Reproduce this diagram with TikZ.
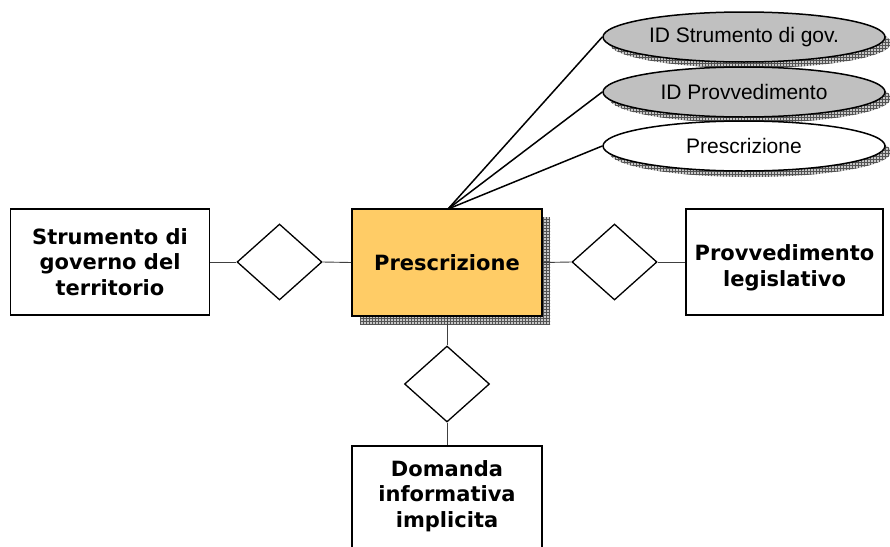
\documentclass[tikz,border=0pt]{standalone}
\usepackage{fontspec}
\newfontfamily\boxfont{DejaVu Sans}
\newfontfamily\ellfont{Liberation Sans}
\usetikzlibrary{shapes.geometric,shadows,patterns}
\tikzset{
  entity/.style={draw, line width=1.6pt, rectangle, minimum width=199pt, minimum height=106pt,
    align=center, font=\boxfont\bfseries\fontsize{21}{25.5}\selectfont, inner sep=2pt},
  etext/.style={align=center, font=\boxfont\bfseries\fontsize{21}{25.5}\selectfont, inner sep=2pt},
  rel/.style={draw, line width=1.3pt, diamond, minimum width=85pt, minimum height=76pt, inner sep=0pt, fill=white},
  conn/.style={line width=0.9pt, draw=black!75},
  attrline/.style={line width=1.5pt},
  hshadow/.style={general shadow={fill=gray!45, shadow xshift=#1, shadow yshift=-#1},
                  general shadow={pattern=grid, pattern color=gray!65!black, shadow xshift=#1, shadow yshift=-#1}},
  attr/.style={draw, line width=1.5pt, ellipse, minimum width=282pt, minimum height=50pt, inner sep=0pt,
    font=\ellfont\fontsize{21}{23}\selectfont, hshadow=6pt},
}
\begin{document}
\begin{tikzpicture}[x=1pt,y=-1pt]
\useasboundingbox (0,0) rectangle (890,546);
\clip (0,0) rectangle (890,546);
% entities
\node[entity] (sgt) at (110,262) {Strumento di\\governo del\\territorio};
\node[entity, minimum width=190pt, minimum height=107pt, fill={rgb,255:red,255;green,204;blue,102}, hshadow=8pt] (pre) at (447,262.5) {Prescrizione};
\node[entity, minimum width=197pt] (prl) at (784.5,262) {};
\node[etext] (prlt) at (784.5,268) {Provvedimento\\legislativo};
\node[entity, minimum width=190pt, minimum height=120pt, anchor=north] (dom) at (447,445) {};
\node[etext, anchor=north] (domt) at (447,458) {Domanda\\informativa\\implicita};
% relationships
\node[rel] (r1) at (279.5,262) {};
\node[rel] (r2) at (614.5,262) {};
\node[rel] (r3) at (447,384) {};
\draw[conn] (sgt.east) -- (r1.west);
\draw[conn] (r1.east) -- (pre.west);
\draw[conn] (pre.east) -- (r2.west);
\draw[conn] (r2.east) -- (prl.west);
\draw[conn] (pre.south) -- (r3.north);
\draw[conn] (r3.south) -- (dom.north);
% attributes
\node[attr, fill={rgb,255:red,192;green,192;blue,192}] (a1) at (744,37) {ID Strumento di gov.};
\node[attr, fill={rgb,255:red,192;green,192;blue,192}] (a2) at (744,92) {ID Provvedimento};
\node[attr, fill=white] (a3) at (744,146) {Prescrizione};
\coordinate (top) at (448,209);
\draw[attrline] (top) -- (a1.west);
\draw[attrline] (top) -- (a2.west);
\draw[attrline] (top) -- (a3.west);
\end{tikzpicture}
\end{document}
